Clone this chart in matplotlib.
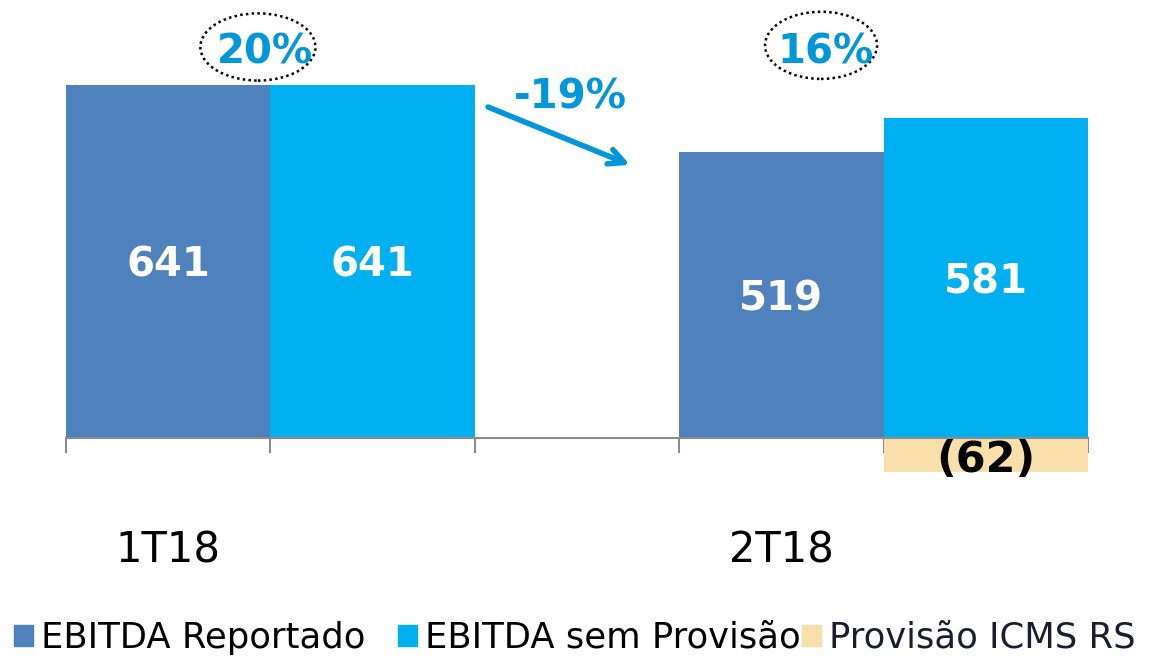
import matplotlib
matplotlib.use("Agg")
from matplotlib import pyplot as plt
from matplotlib.patches import Ellipse, Patch

# data
periods = ["1T18", "2T18"]
ebitda_reportado = [641, 519]
ebitda_sem_provisao = [641, 581]
provisao_icms = [0, -62]
margins = ["20%", "16%"]
growth = "-19%"

c_rep = "#4F81BD"
c_sem = "#00B0F0"
c_prov = "#F9DFA9"
c_txt = "#0096DB"

plt.rcParams['font.family'] = ['DejaVu Sans']

fig = plt.figure(figsize=(11.51, 6.58), dpi=100)
ax = fig.add_axes([66/1151, 0.2401, 1022/1151, 0.7295])

x_rep = [0, 3]
x_sem = [1, 4]
b1 = ax.bar(x_rep, ebitda_reportado, width=1.0, color=c_rep, zorder=2)
b2 = ax.bar(x_sem, ebitda_sem_provisao, width=1.0, color=c_sem, zorder=2)
b3 = ax.bar([x_sem[1]], [provisao_icms[1]], width=1.0, color=c_prov, zorder=2)

for xs, vals in [(x_rep, ebitda_reportado), (x_sem, ebitda_sem_provisao)]:
    for x, v in zip(xs, vals):
        ax.text(x, v / 2, str(v), ha='center', va='center_baseline', color='white',
                fontsize=29, fontweight='bold', zorder=3)

ax.text(x_sem[1], provisao_icms[1] / 2, "(%d)" % abs(provisao_icms[1]), ha='center',
        va='center_baseline', color='black', fontsize=31, fontweight='bold', zorder=4)

ax.set_xlim(-0.5, 4.5)
ax.set_ylim(-112.6, 759.0)

for s in ['top', 'right', 'left']:
    ax.spines[s].set_visible(False)
ax.spines['bottom'].set_position(('data', 0))
ax.spines['bottom'].set_color('#8C8C8C')
ax.spines['bottom'].set_linewidth(1.5)
ax.spines['bottom'].set_zorder(5)
ax.set_yticks([])

ax.set_xticks([0, 3])
ax.set_xticklabels(periods, fontsize=30)
ax.tick_params(axis='x', which='major', length=0, pad=66)
ax.set_xticks([-0.5, 0.5, 1.5, 2.5, 3.5, 4.5], minor=True)
ax.tick_params(axis='x', which='minor', length=10.5, width=1.5, color='#8C8C8C')

# margin labels with dotted ellipses
ax.add_patch(Ellipse((0.439, 710), 0.563, 122, fill=False, ls=(0, (1, 1.3)),
                     lw=1.8, ec='black', clip_on=False, zorder=4))
ax.add_patch(Ellipse((3.194, 713), 0.548, 122, fill=False, ls=(0, (1, 1.3)),
                     lw=1.8, ec='black', clip_on=False, zorder=4))
ax.text(0.474, 708, margins[0], ha='center', va='center_baseline', color=c_txt,
        fontsize=29, fontweight='bold', zorder=5)
ax.text(3.218, 708, margins[1], ha='center', va='center_baseline', color=c_txt,
        fontsize=29, fontweight='bold', zorder=5)

# growth arrow
ax.annotate("", xy=(2.259, 496), xytext=(1.565, 601),
            arrowprops=dict(arrowstyle='->,head_length=1.1,head_width=0.55',
                            color=c_txt, lw=4, shrinkA=0, shrinkB=0,
                            capstyle='round', joinstyle='round'))
ax.text(1.966, 626, growth, ha='center', va='center_baseline', color=c_txt,
        fontsize=29, fontweight='bold')

# legend, one entry each so they sit where they should
entries = [(b1, "EBITDA Reportado", 'black', 14),
           (b2, "EBITDA sem Provisão", 'black', 398),
           (b3, "Provisão ICMS RS", '#1c1c30', 802)]
for h, lab, col, px in entries:
    leg = fig.legend([Patch(color=h.patches[0].get_facecolor())], [lab],
                     loc='center left', bbox_to_anchor=(px/1151, 1 - 638/658),
                     frameon=False, fontsize=25.5, handlelength=0.54,
                     handleheight=0.51, handletextpad=0.23, borderpad=0,
                     borderaxespad=0)
    for t in leg.get_texts():
        t.set_color(col)

fig.savefig("out.png", dpi=100)
